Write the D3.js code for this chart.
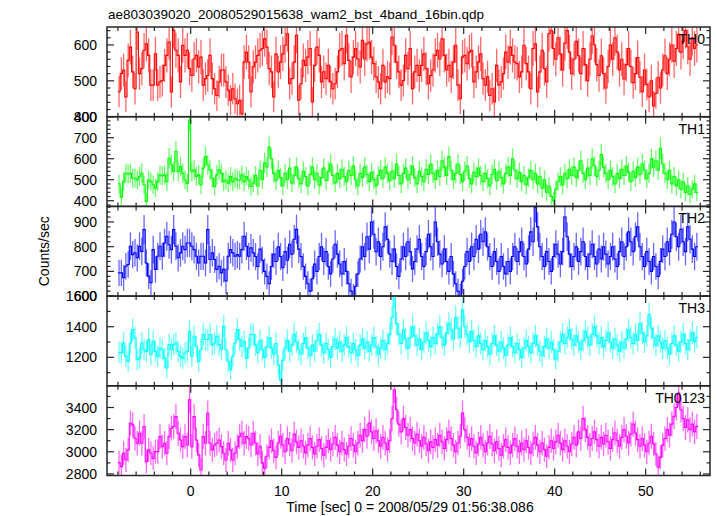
<!DOCTYPE html>
<html><head><meta charset="utf-8">
<script src="https://cdn.jsdelivr.net/npm/d3@7"></script>
<style>body{margin:0;background:#fff}svg{display:block}text{font-family:"Liberation Sans",Arial,Helvetica,sans-serif;fill:#000}</style>
</head><body><svg id="c" width="717" height="516"></svg>
<script>
const title = "ae803039020_20080529015638_wam2_bst_4band_16bin.qdp";
const xTitle = "Time [sec] 0 = 2008/05/29 01:56:38.086";
const yTitle = "Counts/sec";
const t0 = -7.875, binWidth = 0.25;
const xTicks = [0, 10, 20, 30, 40, 50];
const panelLabels = ["TH0", "TH1", "TH2", "TH3", "TH0123"];
const th0Ticks = [400, 500, 600];
const th1Ticks = [400, 500, 600, 700, 800];
const th2Ticks = [600, 700, 800, 900];
const th3Ticks = [1200, 1400, 1600];
const th0123Ticks = [2800, 3000, 3200, 3400];

const th0 = [470,520,530,455,557,594,525,478,636,520,534,585,603,571,488,488,575,488,497,501,543,571,608,469,641,585,571,497,599,571,585,534,515,561,571,539,566,488,506,515,571,506,478,459,497,530,530,497,474,446,478,450,436,446,408,552,580,552,469,539,552,571,585,590,
617,594,534,525,455,575,525,552,575,599,631,492,506,552,627,446,492,557,543,566,590,441,543,594,571,497,525,506,543,497,478,492,525,585,590,548,627,557,511,566,590,561,539,613,561,603,608,566,548,511,497,478,543,497,511,506,622,599,552,525,488,501,571,534,
590,478,525,543,515,543,575,534,492,515,530,571,585,561,617,571,530,543,511,552,599,488,450,566,571,548,580,585,497,525,552,575,506,488,511,459,478,441,543,488,497,520,580,552,594,571,552,548,511,525,599,548,525,478,590,603,469,525,585,534,497,631,641,590,
560,620,575,530,605,640,580,520,560,610,570,520,590,545,500,560,625,600,545,515,570,520,480,540,600,560,620,580,530,560,505,545,590,540,495,520,565,510,470,530,490,455,500,430,465,510,480,530,570,520,560,600,555,590,630,580,610,640,595,560,620,590,600];

const th1 = [480,417,491,531,528,531,507,507,499,515,531,476,397,499,491,476,460,491,523,518,523,491,602,571,539,634,539,563,531,499,484,784,539,547,515,523,476,555,610,571,547,507,468,523,547,531,491,499,484,515,491,507,499,499,523,491,515,499,468,484,
520,470,545,500,580,560,655,600,530,495,545,510,470,530,500,555,485,520,560,505,
480,540,515,470,525,560,500,530,475,510,555,495,540,575,520,485,530,505,550,515,
490,545,520,565,500,470,530,510,560,525,490,535,500,470,520,545,505,560,530,495,
540,505,575,520,480,530,555,500,525,565,510,480,540,515,490,550,525,575,530,500,
545,515,590,560,520,610,545,500,530,575,525,490,540,565,505,480,535,515,555,520,
490,530,505,470,525,550,495,540,510,480,530,560,520,600,545,505,535,490,520,475,
510,545,500,530,480,515,460,500,440,470,420,400,455,490,515,475,530,505,550,520,
560,510,545,590,530,500,555,520,600,565,515,545,620,560,530,500,545,515,480,530,
505,550,520,565,535,490,540,510,560,525,575,545,505,530,600,560,590,545,650,575,
530,500,545,480,515,470,500,455,490,440,470,430,455,480,440];

const th2 = [694,694,674,721,728,802,768,775,755,802,781,869,734,681,654,788,708,761,802,761,815,842,808,788,869,802,755,775,802,788,815,815,802,788,761,734,761,761,734,869,748,775,748,708,721,694,708,661,761,788,775,761,768,761,788,842,802,761,795,775,
760,720,790,745,700,680,650,720,770,740,800,760,715,780,745,810,770,830,870,790,
760,720,680,650,620,670,730,700,760,800,740,780,720,690,750,810,770,730,690,740,
700,650,620,600,640,690,750,800,760,840,790,900,850,780,820,760,800,880,830,770,
740,790,720,680,750,800,760,820,780,710,740,790,830,760,720,780,850,800,760,900,
820,770,730,790,740,700,760,690,650,620,600,660,720,780,740,800,760,830,790,850,
820,860,800,760,720,780,740,700,760,720,690,740,700,760,800,740,780,820,760,730,
790,860,820,960,880,800,760,720,780,740,700,760,810,770,730,780,920,840,770,720,
760,800,740,780,820,760,720,770,810,760,730,790,750,800,770,730,760,800,750,720,
780,820,760,800,860,820,780,840,880,800,760,720,780,740,700,760,720,680,740,790,
760,820,780,850,900,840,800,870,820,780,880,830,790,760,800];

const th3 = [1233,1228,1294,1206,1173,1294,1381,1327,1184,1195,1294,1250,1239,1316,1217,1305,1239,1206,1261,1250,1195,1130,1283,1250,1283,1294,1239,1206,1195,1228,1239,1370,1206,1338,1272,1173,1250,1349,1316,1316,1349,1283,1294,1338,1283,1250,1403,1250,1173,1119,1206,1294,1381,1316,1272,1305,1195,1261,1349,1349,
1280,1230,1310,1250,1200,1270,1330,1260,1220,1290,1150,1050,1180,1260,1310,1240,1280,1350,1300,1250,
1220,1290,1330,1260,1210,1280,1240,1310,1350,1280,1230,1290,1250,1200,1270,1320,1260,1300,1240,1280,
1330,1270,1230,1290,1250,1210,1280,1320,1260,1300,1240,1280,1330,1270,1220,1260,1310,1250,1290,1350,
1460,1600,1420,1350,1290,1380,1320,1260,1330,1400,1340,1280,1320,1250,1300,1360,1310,1270,1330,1290,
1350,1400,1330,1280,1360,1420,1380,1320,1460,1390,1330,1510,1400,1350,1300,1370,1310,1270,1340,1290,
1250,1310,1270,1220,1290,1340,1280,1240,1300,1260,1210,1280,1330,1270,1230,1290,1250,1200,1260,1310,
1270,1230,1290,1340,1280,1240,1210,1270,1320,1260,1300,1250,1190,1240,1300,1350,1290,1330,1380,1320,
1280,1340,1300,1250,1310,1370,1330,1280,1350,1400,1340,1290,1330,1270,1310,1360,1300,1260,1320,1280,
1240,1300,1260,1320,1380,1330,1290,1350,1310,1420,1360,1300,1340,1480,1390,1330,1280,1340,1300,1260,
1310,1260,1220,1290,1340,1280,1240,1300,1350,1290,1250,1310,1360,1300,1330];

const th0123 = [2902,2866,2987,2926,3017,3258,3243,3122,3077,3168,3077,3228,2911,3017,2987,2941,3002,3002,3137,3047,3077,2987,3137,3213,3228,3318,3168,3107,3047,3137,3062,3469,3047,3318,3107,2972,2836,3137,3077,3348,3077,3017,3062,3077,3107,3047,2987,2926,3077,3017,2926,2987,3047,3137,3168,3077,3137,3122,3062,3168,
3080,2980,3050,2900,2850,2960,3040,3100,3010,2950,3080,3140,3060,3000,3120,3070,3010,3160,3090,3040,
3100,3050,2990,3060,3120,3040,2980,3050,3110,3030,2970,3040,3100,3020,3070,3130,3060,3000,3080,3020,
2980,3050,3120,3060,3000,3080,3150,3100,3200,3140,3260,3180,3120,3190,3100,3050,3130,3080,3020,3100,
3300,3560,3380,3250,3180,3300,3220,3150,3200,3120,3080,3160,3100,3050,3130,3070,3010,3090,3040,3110,
3060,3150,3090,3030,3110,3180,3120,3060,3000,3080,3140,3350,3200,3130,3060,3120,3050,2990,3070,3130,
3060,3000,3080,3140,3070,3010,3090,3030,2970,3050,3110,3040,2990,3060,3120,3050,3000,3080,3020,3100,
3040,2990,3070,3130,3060,3000,3080,3020,2960,3040,3100,3030,3090,3150,3080,3020,3100,3050,3000,3070,
3130,3060,3180,3120,3300,3200,3130,3060,3120,3180,3110,3050,3130,3070,3150,3090,3030,3110,3170,3100,
3050,3130,3200,3140,3080,3160,3250,3170,3110,3050,3120,3060,3000,3080,3140,3070,2980,2860,2950,3060,
3120,3200,3150,3250,3320,3400,3530,3380,3300,3220,3290,3200,3250,3180,3230];

const svg = d3.select("#c");
const plotLeft = 107, plotRight = 710, plotTop = 27, panelH = 89.7;
const x = d3.scaleLinear().domain([-9.2, 57.07]).range([plotLeft, plotRight]);

const panels = [
  {label: panelLabels[0], values: th0, color: "#ff0000", domain: [400, 650], ticks: th0Ticks, minor: 20, major: 100},
  {label: panelLabels[1], values: th1, color: "#00ff00", domain: [373, 800], ticks: th1Ticks, minor: 20, major: 100},
  {label: panelLabels[2], values: th2, color: "#0000ff", domain: [600, 963], ticks: th2Ticks, minor: 20, major: 100},
  {label: panelLabels[3], values: th3, color: "#00ffff", domain: [1014, 1600], ticks: th3Ticks, minor: 100, major: 200},
  {label: panelLabels[4], values: th0123, color: "#ff00ff", domain: [2786, 3596], ticks: th0123Ticks, minor: 100, major: 200}
];

const defs = svg.append("defs");
const frameColor = "#262626";

panels.forEach((p, k) => {
  const y0 = plotTop + k * panelH, y1 = y0 + panelH;
  const y = d3.scaleLinear().domain(p.domain).range([y1, y0]);
  const data = p.values.map((v, i) => ({t: t0 + i * binWidth, v, e: Math.sqrt(v / binWidth)}));
  defs.append("clipPath").attr("id", "clip" + k).append("rect")
    .attr("x", plotLeft).attr("y", y0).attr("width", plotRight - plotLeft).attr("height", panelH);
  const g = svg.append("g").attr("clip-path", `url(#clip${k})`);
  g.append("g").selectAll("line").data(data).join("line")
    .attr("x1", d => x(d.t)).attr("x2", d => x(d.t))
    .attr("y1", d => y(d.v - d.e)).attr("y2", d => y(d.v + d.e))
    .attr("stroke", p.color).attr("stroke-width", 1.3).attr("stroke-opacity", 0.6);
  const pts = [];
  data.forEach(d => { pts.push([d.t - binWidth / 2, d.v]); pts.push([d.t + binWidth / 2, d.v]); });
  g.append("path").datum(pts)
    .attr("d", d3.line().x(d => x(d[0])).y(d => y(d[1])))
    .attr("fill", "none").attr("stroke", p.color).attr("stroke-width", 1.1);

  svg.append("rect").attr("x", plotLeft).attr("y", y0).attr("width", plotRight - plotLeft).attr("height", panelH)
    .attr("fill", "none").attr("stroke", frameColor).attr("stroke-width", 1.5);

  const minorVals = d3.range(Math.ceil(p.domain[0] / p.minor) * p.minor, p.domain[1] + 0.001, p.minor);
  const tg = svg.append("g").attr("stroke", frameColor);
  minorVals.forEach(v => {
    const isMajor = Math.abs(v % p.major) < 1e-6;
    const len = isMajor ? 7 : 3.5;
    tg.append("line").attr("x1", plotLeft).attr("x2", plotLeft + len).attr("y1", y(v)).attr("y2", y(v)).attr("stroke-width", 1.2);
    tg.append("line").attr("x1", plotRight).attr("x2", plotRight - len).attr("y1", y(v)).attr("y2", y(v)).attr("stroke-width", 1.2);
  });
  d3.range(-8, 57, 2).forEach(t => {
    const len = t % 10 === 0 ? 7 : 4;
    tg.append("line").attr("x1", x(t)).attr("x2", x(t)).attr("y1", y0).attr("y2", y0 + len).attr("stroke-width", 1.2);
    tg.append("line").attr("x1", x(t)).attr("x2", x(t)).attr("y1", y1).attr("y2", y1 - len).attr("stroke-width", 1.2);
  });
  svg.append("g").selectAll("text").data(p.ticks).join("text")
    .attr("x", 97).attr("y", d => y(d)).attr("dy", "0.36em")
    .attr("text-anchor", "end").attr("font-size", 14).text(d => d);
  svg.append("text").attr("x", 705).attr("y", y0 + 17).attr("text-anchor", "end")
    .attr("font-size", 14).text(p.label);
});

const plotBottom = plotTop + 5 * panelH;
svg.append("g").selectAll("text").data(xTicks).join("text")
  .attr("x", d => x(d)).attr("y", plotBottom + 20).attr("text-anchor", "middle")
  .attr("font-size", 14).text(d => d);

svg.append("text").attr("x", 108).attr("y", 19).attr("font-size", 13.5).text(title);
svg.append("text").attr("x", 410).attr("y", 512).attr("text-anchor", "middle").attr("font-size", 14).text(xTitle);
svg.append("text").attr("transform", `translate(49,${plotTop + 2.5 * panelH}) rotate(-90)`)
  .attr("text-anchor", "middle").attr("font-size", 14).text(yTitle);
</script></body></html>
